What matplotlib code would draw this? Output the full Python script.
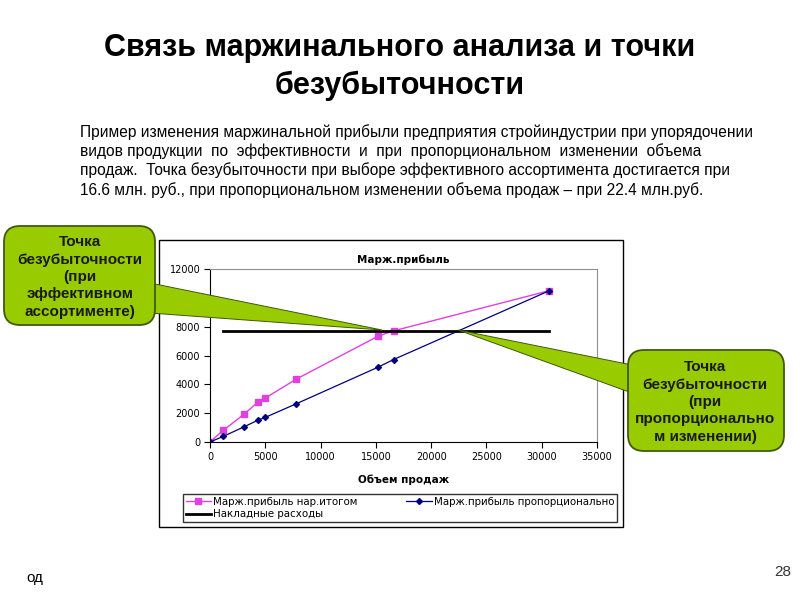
import matplotlib
matplotlib.use("Agg")
import matplotlib.pyplot as plt
from matplotlib.patches import FancyBboxPatch, Polygon, Rectangle

# данные графика
volume = [0, 1200, 3100, 4300, 5000, 7800, 15200, 16600, 30700]
margin_cum = [0, 810, 1940, 2750, 3050, 4360, 7340, 7710, 10500]
margin_prop = [0, 390, 1060, 1500, 1710, 2650, 5190, 5720, 10500]
overhead_x = [1200, 30700]
overhead_y = [7700, 7700]

title = "Связь маржинального анализа и точки\nбезубыточности"
para = [
    "Пример изменения маржинальной прибыли предприятия стройиндустрии при упорядочении",
    "видов продукции  по  эффективности  и  при  пропорциональном  изменении  объема",
    "продаж.  Точка безубыточности при выборе эффективного ассортимента достигается при",
    "16.6 млн. руб., при пропорциональном изменении объема продаж – при 22.4 млн.руб.",
]
callout_left = "Точка\nбезубыточности\n(при\nэффективном\nассортименте)"
callout_right = "Точка\nбезубыточности\n(при\nпропорционально\nм изменении)"

plt.rcParams['font.family'] = ['Liberation Sans', 'DejaVu Sans']

fig = plt.figure(figsize=(8, 6), dpi=100)
fig.patch.set_facecolor('white')

W, H = 800, 600
def fx(x):
    return x / W
def fy(y):
    return 1 - y / H

# рамка диаграммы
fig.patches.append(Rectangle((fx(159), fy(527)), (623 - 159) / W, (527 - 240) / H,
                             transform=fig.transFigure, fill=False, ec='black', lw=1, zorder=0))

chart_font = ['DejaVu Sans']
ax = fig.add_axes([fx(210), fy(442), (597 - 210) / W, (442 - 269) / H])
ax.plot(volume, margin_cum, color='#E040E0', lw=1, marker='s', ms=5,
        label='Марж.прибыль нар.итогом')
ax.plot(volume, margin_prop, color='#000080', lw=0.9, marker='D', ms=3,
        label='Марж.прибыль пропорционально')
ax.plot(overhead_x, overhead_y, color='black', lw=2, label='Накладные расходы')

ax.set_xlim(0, 35000)
ax.set_ylim(0, 12000)
ax.set_xticks(range(0, 35001, 5000))
ax.set_yticks(range(0, 12001, 2000))
ax.tick_params(direction='out', length=4, width=0.8, labelsize=7, pad=3)
for lab in ax.get_xticklabels() + ax.get_yticklabels():
    lab.set_family(chart_font)
for s in ['top', 'right']:
    ax.spines[s].set_color('#909090')
for s in ['left', 'bottom']:
    ax.spines[s].set_color('black')
ax.set_title('Марж.прибыль', fontsize=7.5, fontweight='bold', pad=4, family=chart_font)
ax.set_xlabel('Объем продаж', fontsize=7.5, fontweight='bold', labelpad=9, family=chart_font)

h, l = ax.get_legend_handles_labels()
order = [0, 2, 1]
fig.legend([h[i] for i in order], [l[i] for i in order], ncol=2,
           loc='lower left', mode='expand',
           bbox_to_anchor=(fx(183), fy(522), (617 - 183) / W, (522 - 486) / H),
           prop={'family': chart_font, 'size': 7.4},
           frameon=True, fancybox=False, edgecolor='black',
           borderaxespad=0, handlelength=2.5, handletextpad=0.2,
           labelspacing=0.25, borderpad=0.25, columnspacing=1)

# заголовок и текст
fig.text(0.5, fy(67), title, ha='center', va='center', fontsize=22,
         fontweight='bold', linespacing=1.3)
for i, line in enumerate(para):
    fig.text(fx(80), fy(132 + i * 19.2), line, ha='left', va='center', fontsize=11.2)

# выноски
ov = fig.add_axes([0, 0, 1, 1], zorder=5)
ov.set_xlim(0, W)
ov.set_ylim(H, 0)
ov.axis('off')
ov.patch.set_alpha(0)

green = '#99CC00'
edge = '#3F5A0A'
ov.add_patch(Polygon([(150, 283), (382, 330), (150, 313)], closed=True,
                     fc=green, ec=edge, lw=0.7))
ov.add_patch(Polygon([(458, 330), (632, 365), (632, 393)], closed=True,
                     fc=green, ec=edge, lw=0.7))
ov.add_patch(FancyBboxPatch((4, 226), 151, 99, boxstyle='round,pad=0,rounding_size=16',
                            fc=green, ec=edge, lw=1.3))
ov.add_patch(FancyBboxPatch((628, 350), 156, 101, boxstyle='round,pad=0,rounding_size=16',
                            fc=green, ec=edge, lw=1.3))
ov.text(80, 277, callout_left, ha='center', va='center', fontsize=11,
        fontweight='bold', color='#1A1A1A', linespacing=1.3)
ov.text(705, 402, callout_right, ha='center', va='center', fontsize=11,
        fontweight='bold', color='#1A1A1A', linespacing=1.3)

ov.text(35, 578, 'од', ha='center', va='center', fontsize=11)
ov.text(783, 572, '28', ha='center', va='center', fontsize=11, color='#333333')

fig.savefig('out.png', dpi=100)
